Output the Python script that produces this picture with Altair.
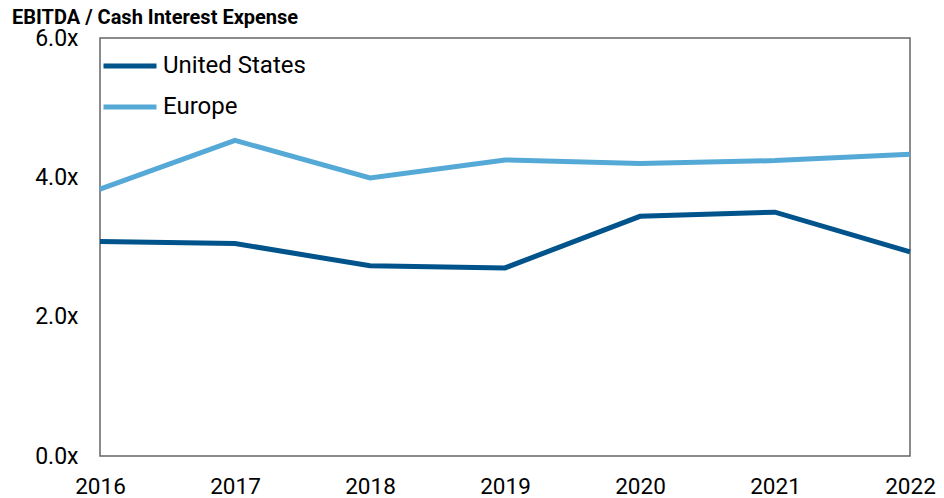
import altair as alt
import pandas as pd

years = [2016, 2017, 2018, 2019, 2020, 2021, 2022]
us = [3.08, 3.05, 2.73, 2.70, 3.44, 3.50, 2.93]
europe = [3.83, 4.53, 3.99, 4.25, 4.20, 4.24, 4.33]
series = ["United States", "Europe"]
colors = ["#00538B", "#55A9D6"]

rows = []
for y, v in zip(years, us):
    rows.append({"year": y, "value": v, "series": "United States"})
for y, v in zip(years, europe):
    rows.append({"year": y, "value": v, "series": "Europe"})
df = pd.DataFrame(rows)

FONT = "Roboto"

chart = alt.Chart(df).mark_line(strokeWidth=5, strokeCap="butt").encode(
    x=alt.X("year:Q", scale=alt.Scale(domain=[2016, 2022], nice=False, zero=False),
            axis=alt.Axis(values=years, format="d", title=None, grid=False, ticks=False,
                          domain=False, labelFontSize=22.5, labelPadding=19,
                          labelColor="#000000", labelFont=FONT, labelFlush=False)),
    y=alt.Y("value:Q", scale=alt.Scale(domain=[0, 6], nice=False),
            axis=alt.Axis(values=[0, 2, 4, 6], title=None, grid=False, ticks=False,
                          domain=False, labelFontSize=23, labelPadding=22,
                          labelColor="#000000", labelFont=FONT,
                          labelExpr="format(datum.value, '.1f') + 'x'")),
    color=alt.Color("series:N", scale=alt.Scale(domain=series, range=colors),
                    sort=series,
                    legend=alt.Legend(title=None, orient="none", legendX=1, legendY=-1,
                                      symbolType="stroke", symbolSize=2809,
                                      symbolStrokeWidth=5, labelFontSize=24,
                                      labelFont=FONT, labelColor="#000000",
                                      labelOffset=4, rowPadding=-18, padding=0)),
).properties(
    width=810,
    height=418,
    title=alt.TitleParams("EBITDA / Cash Interest Expense", anchor="start", frame="group",
                          dx=-88, dy=4, fontSize=20, font=FONT, fontWeight="bold",
                          color="#000000", offset=3),
    autosize=alt.AutoSizeParams(type="none"),
    padding={"left": 92, "top": 30, "right": 26, "bottom": 45},
).configure_view(
    stroke="#666666", strokeWidth=1.5
)

chart.save("out.html", embed_options={"renderer": "svg", "actions": False})
